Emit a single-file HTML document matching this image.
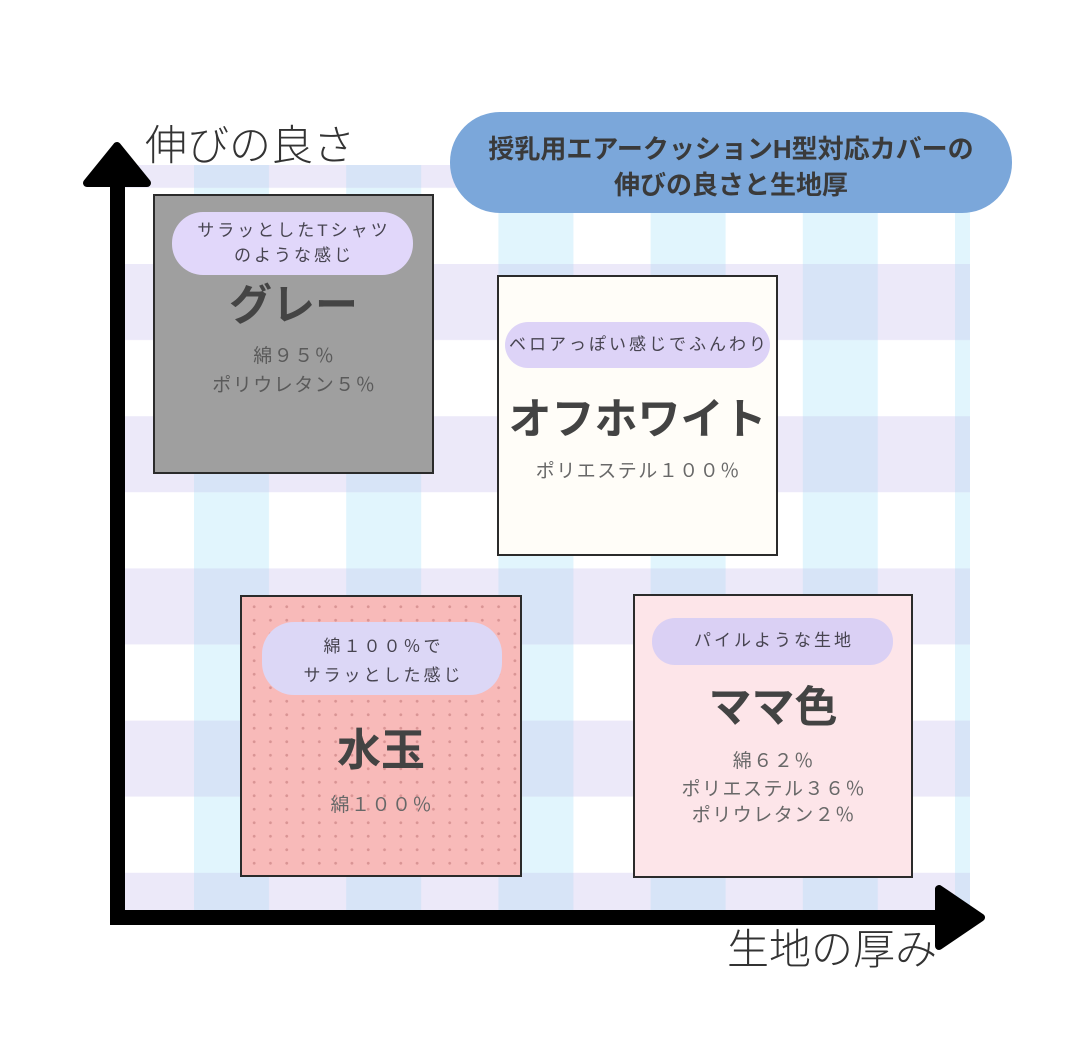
<!DOCTYPE html>
<html lang="ja">
<head>
<meta charset="utf-8">
<style>
  html,body{margin:0;padding:0;background:#fff;}
  body{width:1080px;height:1058px;position:relative;overflow:hidden;
       font-family:"Liberation Sans","Noto Sans CJK JP",sans-serif;}
  svg.bg{position:absolute;left:0;top:0;}
  .box{position:absolute;box-sizing:border-box;border:2.5px solid #2b2b2b;}
  .pill{position:absolute;background:#ddd4f7;}
  .t{position:absolute;text-align:center;white-space:nowrap;}
  .pt{font-size:17px;line-height:24px;letter-spacing:3px;text-indent:3px;color:#474450;}
  .big{font-size:43px;line-height:50px;font-weight:700;color:#434343;}
  .sm{font-size:19px;line-height:26px;letter-spacing:1.5px;text-indent:1.5px;color:#686868;}
  .ax{font-size:42px;line-height:50px;font-weight:300;color:#333;}
  .ttl{font-size:26px;line-height:34px;font-weight:700;color:#3a3a3a;}
</style>
</head>
<body>
<svg class="bg" width="1080" height="1058" viewBox="0 0 1080 1058">
  <defs>
    <pattern id="g" patternUnits="userSpaceOnUse" x="194" y="264" width="152.2" height="152.2">
      <rect x="0" y="0" width="152.2" height="152.2" fill="#ffffff"/>
      <rect x="0" y="0" width="75" height="152.2" fill="#e1f5fd"/>
      <rect x="0" y="0" width="152.2" height="76" fill="#ece9f9"/>
      <rect x="0" y="0" width="75" height="76" fill="#d7e4f7"/>
    </pattern>
  </defs>
  <rect x="120" y="165" width="850" height="745" fill="url(#g)"/>
  <!-- axes -->
  <rect x="110" y="178" width="15" height="747" fill="#000"/>
  <rect x="110" y="910" width="832" height="15" fill="#000"/>
  <polygon points="117,146 87,183 147,183" fill="#000" stroke="#000" stroke-width="8" stroke-linejoin="round"/>
  <polygon points="939,889 939,946 981,917.5" fill="#000" stroke="#000" stroke-width="8" stroke-linejoin="round"/>
</svg>

<!-- Title pill -->
<div style="position:absolute;left:450px;top:112px;width:562px;height:101px;border-radius:50px;background:#7ba7da;"></div>
<div class="t ttl" style="left:450px;width:562px;top:132px;">授乳用エアークッションH型対応カバーの</div>
<div class="t ttl" style="left:450px;width:562px;top:168px;">伸びの良さと生地厚</div>

<!-- Axis labels -->
<div class="t ax" style="left:145px;top:121px;text-align:left;">伸びの良さ</div>
<div class="t ax" style="left:727px;top:925px;text-align:left;">生地の厚み</div>

<!-- Gray box -->
<div class="box" style="left:153px;top:194px;width:281px;height:280px;background:#9f9f9f;"></div>
<div class="pill" style="left:172px;top:212px;width:241px;height:63px;border-radius:31px;background:#e1d7fa;"></div>
<div class="t pt" style="left:172px;width:241px;top:219px;">サラッとしたTシャツ</div>
<div class="t pt" style="left:172px;width:241px;top:244px;">のような感じ</div>
<div class="t big" style="left:153px;width:281px;top:281px;color:#444;">グレー</div>
<div class="t sm" style="left:153px;width:281px;top:344px;color:#5a5a5a;">綿９５％</div>
<div class="t sm" style="left:153px;width:281px;top:373px;color:#5a5a5a;">ポリウレタン５％</div>

<!-- Off-white box -->
<div class="box" style="left:497px;top:275px;width:281px;height:281px;background:#fffdf8;"></div>
<div class="pill" style="left:505px;top:322px;width:265px;height:46px;border-radius:23px;background:#ddd3f7;"></div>
<div class="t pt" style="left:505px;width:265px;top:333px;">ベロアっぽい感じでふんわり</div>
<div class="t big" style="left:497px;width:281px;top:395px;">オフホワイト</div>
<div class="t sm" style="left:497px;width:281px;top:459px;">ポリエステル１００％</div>

<!-- Mizutama box -->
<div class="box" style="left:240px;top:595px;width:282px;height:282px;background-color:#f8bab9;background-image:radial-gradient(circle,#d99494 1.1px,transparent 1.7px);background-size:16.3px 13.5px;background-position:4px 3px;"></div>
<div class="pill" style="left:262px;top:622px;width:240px;height:73px;border-radius:32px;background:#dcd7f6;"></div>
<div class="t pt" style="left:262px;width:240px;top:635px;">綿１００％で</div>
<div class="t pt" style="left:262px;width:240px;top:664px;">サラッとした感じ</div>
<div class="t big" style="left:240px;width:282px;top:726px;font-size:44px;">水玉</div>
<div class="t sm" style="left:240px;width:282px;top:793px;">綿１００％</div>

<!-- Mama-iro box -->
<div class="box" style="left:633px;top:594px;width:280px;height:284px;background:#fde5e9;"></div>
<div class="pill" style="left:652px;top:618px;width:241px;height:47px;border-radius:23px;background:#dad0f4;"></div>
<div class="t pt" style="left:652px;width:241px;top:629px;">パイルような生地</div>
<div class="t big" style="left:633px;width:280px;top:683px;">ママ色</div>
<div class="t sm" style="left:633px;width:280px;top:749px;">綿６２％</div>
<div class="t sm" style="left:633px;width:280px;top:777px;">ポリエステル３６％</div>
<div class="t sm" style="left:633px;width:280px;top:803px;">ポリウレタン２％</div>
</body>
</html>
